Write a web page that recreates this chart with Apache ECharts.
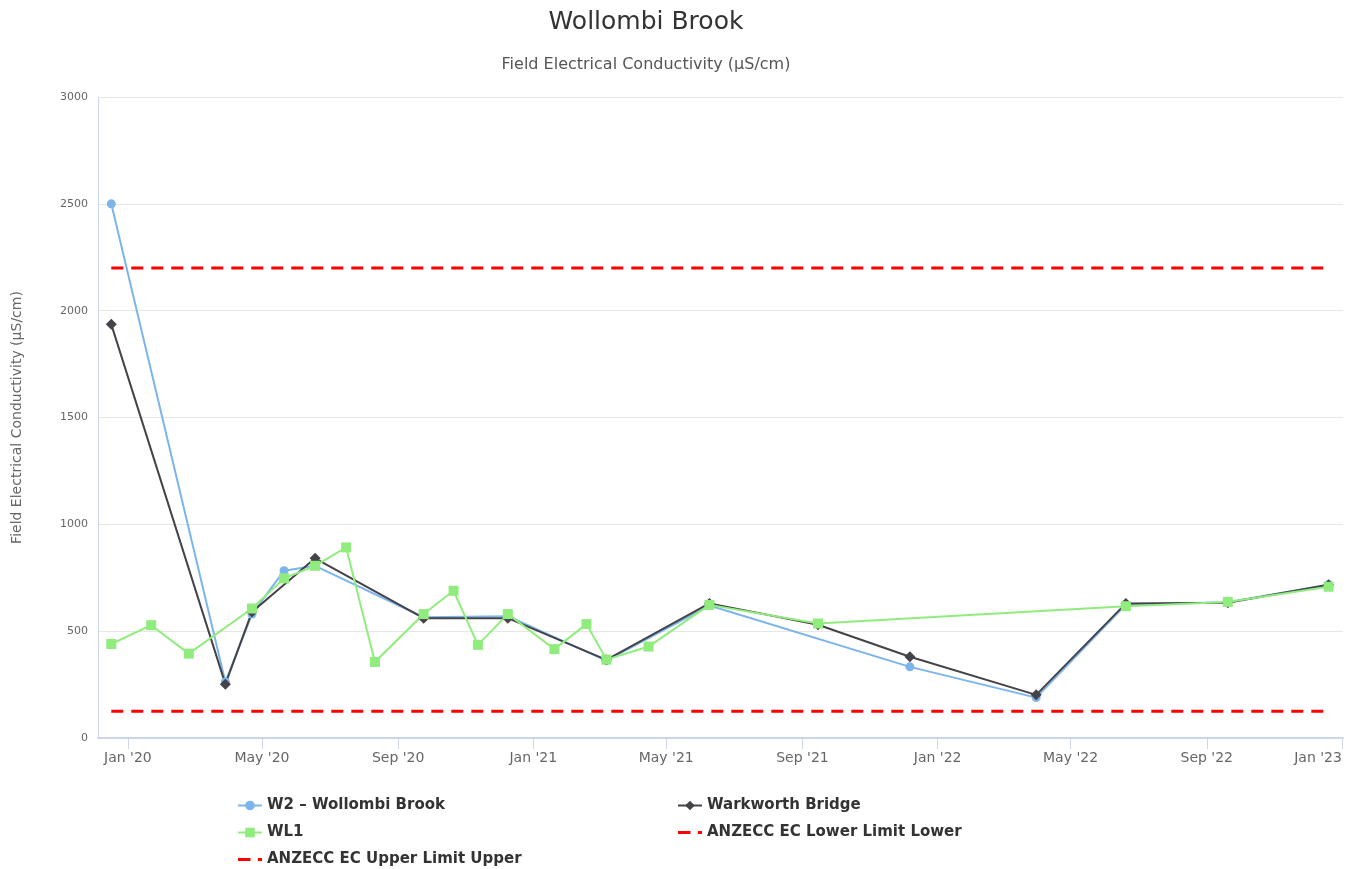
<!DOCTYPE html>
<html>
<head>
<meta charset="utf-8">
<title>Wollombi Brook</title>
<script src="https://cdn.jsdelivr.net/npm/echarts@6/dist/echarts.min.js"></script>
<style>
  html, body { margin: 0; padding: 0; background: #fff; overflow: hidden; }
  #main { width: 100vw; height: 100vh; }
</style>
</head>
<body>
<div id="main"></div>
<script>
// sample dates and EC values
var w2Dates = ['2019-12-17', '2020-03-29', '2020-04-22', '2020-05-21', '2020-06-18', '2020-09-24', '2020-12-09',
  '2021-03-08', '2021-06-09', '2021-12-07', '2022-03-31', '2022-06-20', '2022-09-20', '2022-12-20'];
var w2Values = [2500, 262, 580, 783, 806, 565, 570, 362, 620, 333, 189, 625, 635, 717];

var warkDates = ['2019-12-17', '2020-03-29', '2020-04-22', '2020-06-18', '2020-09-24', '2020-12-09', '2021-03-08',
  '2021-06-09', '2021-09-15', '2021-12-07', '2022-03-31', '2022-06-20', '2022-09-20', '2022-12-20'];
var warkValues = [1936, 252, 590, 841, 561, 561, 366, 630, 530, 380, 202, 630, 633, 717];

var wl1Dates = ['2019-12-17', '2020-01-22', '2020-02-25', '2020-04-22', '2020-05-21', '2020-06-18', '2020-07-16',
  '2020-08-11', '2020-09-24', '2020-10-21', '2020-11-12', '2020-12-09', '2021-01-20', '2021-02-18', '2021-03-08',
  '2021-04-15', '2021-06-09', '2021-09-15', '2022-06-20', '2022-09-20', '2022-12-20'];
var wl1Values = [440, 528, 395, 606, 747, 806, 892, 356, 580, 689, 436, 580, 416, 533, 367, 428, 623, 536, 617, 637, 708];

var limitDates = ['2019-12-17', '2022-12-20'];
var lowerLimit = 125;
var upperLimit = 2200;

var xTicks = ['2020-01-01', '2020-05-01', '2020-09-01', '2021-01-01', '2021-05-01', '2021-09-01',
  '2022-01-01', '2022-05-01', '2022-09-01', '2023-01-01'];
var yTicks = [0, 500, 1000, 1500, 2000, 2500, 3000];

var months = ['Jan', 'Feb', 'Mar', 'Apr', 'May', 'Jun', 'Jul', 'Aug', 'Sep', 'Oct', 'Nov', 'Dec'];

function toTime(s) {
  var p = s.split('-');
  return new Date(+p[0], +p[1] - 1, +p[2]).getTime();
}
function pairs(dates, values) {
  return dates.map(function (d, i) { return [toTime(d), values[i]]; });
}

var tickTimes = xTicks.map(toTime);
var axisColor = '#ccd6eb';
var font = 'DejaVu Sans';
// long dash + short dash, like the limit lines in the legend
var dashIcon = 'path://M0,0H12V3H0Z M19,0H23V3H19Z';
var legendText = { fontFamily: font, fontSize: 15, fontWeight: 'bold', color: '#333', lineHeight: 19 };

var myChart = echarts.init(document.getElementById('main'));
myChart.setOption({
  animation: false,
  backgroundColor: '#fff',
  title: [
    {
      text: 'Wollombi Brook',
      left: 641,
      top: 5,
      textAlign: 'center',
      textStyle: { fontFamily: font, fontSize: 25, fontWeight: 'normal', color: '#333' }
    },
    {
      text: 'Field Electrical Conductivity (µS/cm)',
      left: 641,
      top: 52,
      textAlign: 'center',
      textStyle: { fontFamily: font, fontSize: 16, fontWeight: 'normal', color: '#555' }
    }
  ],
  grid: { left: 98, right: 13, top: 97, bottom: 131, containLabel: false },
  // time kept as a plain value axis of timestamps so the tick dates can be fixed
  xAxis: {
    type: 'value',
    min: toTime('2019-12-05'),
    max: toTime('2023-01-02'),
    axisLine: { show: true, onZero: false, lineStyle: { color: axisColor, width: 2 } },
    axisTick: { show: true, length: 11, lineStyle: { color: axisColor }, customValues: tickTimes },
    splitLine: { show: false },
    axisLabel: {
      customValues: tickTimes,
      margin: 13,
      color: '#666',
      fontFamily: font,
      fontSize: 14,
      alignMaxLabel: 'right',
      formatter: function (v) {
        var d = new Date(v);
        return months[d.getMonth()] + " '" + String(d.getFullYear()).slice(2);
      }
    }
  },
  yAxis: {
    type: 'value',
    min: yTicks[0],
    max: yTicks[yTicks.length - 1],
    interval: 500,
    name: 'Field Electrical Conductivity (µS/cm)',
    nameLocation: 'middle',
    nameGap: 74,
    nameTextStyle: { fontFamily: font, fontSize: 14, color: '#666' },
    axisLine: { show: true, lineStyle: { color: axisColor, width: 1 } },
    axisTick: { show: false },
    splitLine: { lineStyle: { color: '#e6e6e6' } },
    axisLabel: {
      margin: 10, color: '#666', fontFamily: font, fontSize: 11,
      formatter: function (v) { return String(v); }
    }
  },
  legend: [
    {
      orient: 'vertical',
      left: 232,
      top: 791,
      height: 100,
      itemWidth: 24,
      itemHeight: 12,
      itemGap: 8,
      data: ['W2 – Wollombi Brook', 'WL1', { name: 'ANZECC EC Upper Limit Upper', icon: dashIcon }],
      textStyle: legendText
    },
    {
      orient: 'vertical',
      left: 672,
      top: 791,
      height: 100,
      itemWidth: 24,
      itemHeight: 12,
      itemGap: 8,
      data: ['Warkworth Bridge', { name: 'ANZECC EC Lower Limit Lower', icon: dashIcon }],
      textStyle: legendText
    }
  ],
  series: [
    {
      name: 'W2 – Wollombi Brook',
      type: 'line',
      data: pairs(w2Dates, w2Values),
      color: '#7cb5ec',
      symbol: 'circle',
      symbolSize: 9,
      lineStyle: { width: 2 }
    },
    {
      name: 'Warkworth Bridge',
      type: 'line',
      data: pairs(warkDates, warkValues),
      color: '#434348',
      symbol: 'diamond',
      symbolSize: 11,
      lineStyle: { width: 2 }
    },
    {
      name: 'WL1',
      type: 'line',
      data: pairs(wl1Dates, wl1Values),
      color: '#90ed7d',
      symbol: 'rect',
      symbolSize: 10,
      lineStyle: { width: 2 }
    },
    {
      name: 'ANZECC EC Lower Limit Lower',
      type: 'line',
      data: pairs(limitDates, [lowerLimit, lowerLimit]),
      color: '#ff0000',
      symbol: 'none',
      lineStyle: { width: 3, type: [12, 8] }
    },
    {
      name: 'ANZECC EC Upper Limit Upper',
      type: 'line',
      data: pairs(limitDates, [upperLimit, upperLimit]),
      color: '#ff0000',
      symbol: 'none',
      lineStyle: { width: 3, type: [12, 8] }
    }
  ]
});
</script>
</body>
</html>
